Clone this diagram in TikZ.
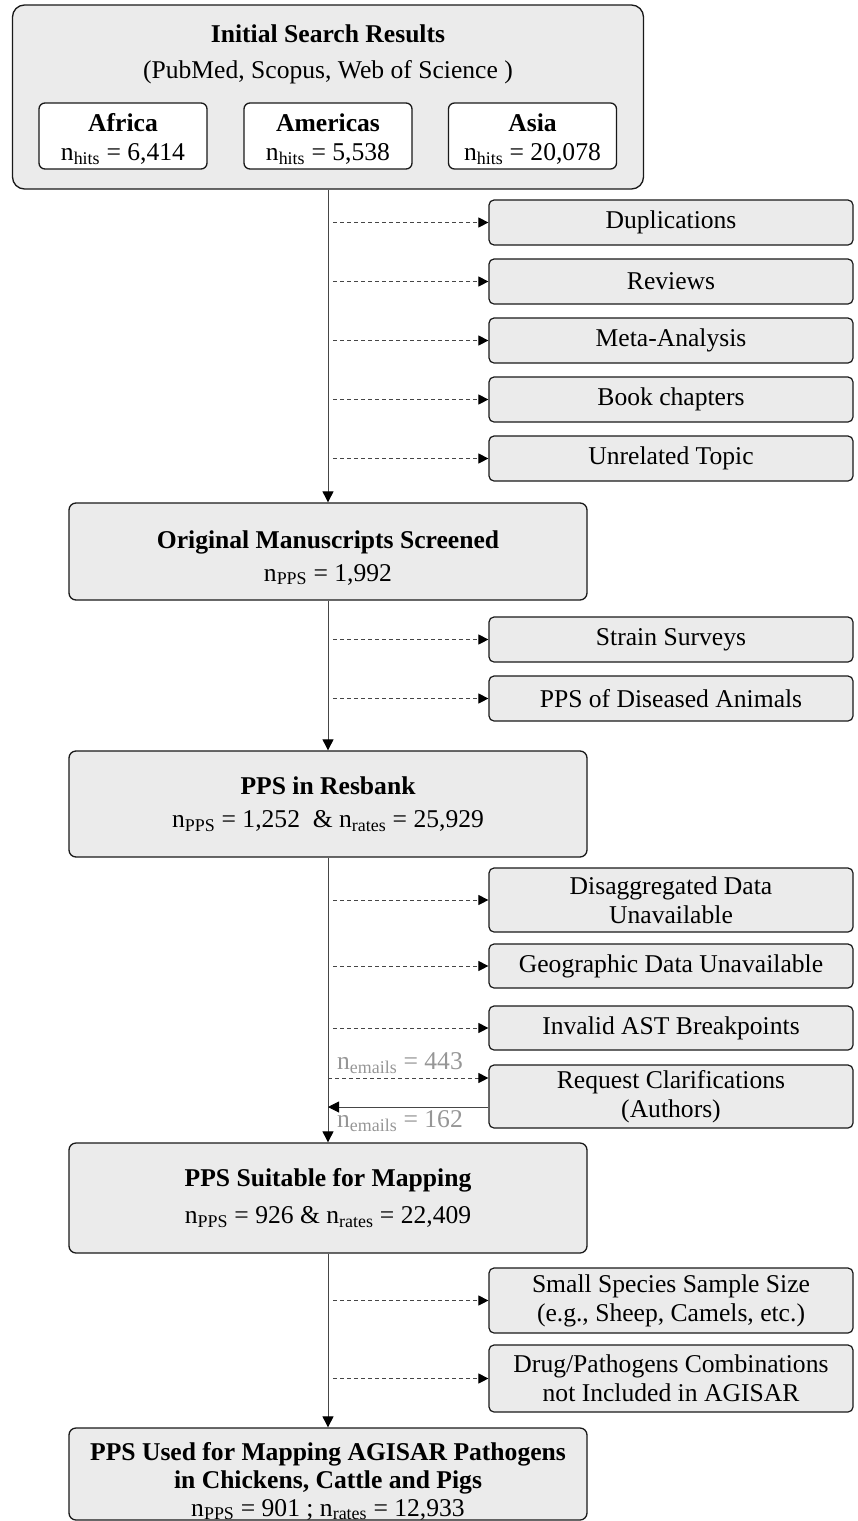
\documentclass[tikz,border=0pt]{standalone}
\usepackage{fontspec}
\setmainfont{Liberation Serif}
\usepackage{xcolor}
\usepackage{tikz}
\usetikzlibrary{arrows.meta}

\definecolor{boxgray}{RGB}{235,235,235}
\definecolor{linegray}{RGB}{70,70,70}
\definecolor{labelgray}{RGB}{150,150,150}

\begin{document}
\begin{tikzpicture}[x=1pt, y=-1pt,
	font=\fontsize{25.6}{29}\selectfont,
	mainbox/.style={draw=black!90, line width=1.3pt, rounded corners=7pt, fill=boxgray, align=center, minimum width=518pt, inner sep=0pt},
	regionbox/.style={draw=black!90, line width=1.3pt, rounded corners=6pt, fill=white, align=center, minimum width=168pt, minimum height=66pt, inner sep=0pt},
	sidebox/.style={draw=black!90, line width=1.2pt, rounded corners=5pt, fill=boxgray, align=center, minimum width=364pt, inner sep=0pt},
	spine/.style={draw=linegray, line width=0.9pt, -{Triangle[length=11pt, width=11pt, color=black]}},
	excl/.style={draw=linegray, line width=0.9pt, dash pattern=on 4pt off 3pt, -{Triangle[length=10pt, width=10pt, color=black]}},
	emaillabel/.style={text=labelgray, inner sep=0pt}]
			\useasboundingbox (0,0) rectangle (858,1521);

			\node[mainbox, rounded corners=12pt, minimum width=631pt, minimum height=184pt] (init) at (328,97) {};
			\node[anchor=base, font=\fontsize{25.6}{29}\selectfont\bfseries] (inittitle) at (328,42) {Initial Search Results};
			\node[anchor=base] (initsub) at (328,78) {(PubMed, Scopus, Web of Science )};
			\node[regionbox] (africa) at (123,136) {\rule{0pt}{24pt}\textbf{Africa}\\n\textsubscript{hits} = 6,414};
			\node[regionbox] (americas) at (328,136) {\rule{0pt}{24pt}\textbf{Americas}\\n\textsubscript{hits} = 5,538};
			\node[regionbox] (asia) at (532.5,136) {\rule{0pt}{24pt}\textbf{Asia}\\n\textsubscript{hits} = 20,078};

			\node[sidebox, minimum height=45pt] (dup) at (671,222.5) {Duplications};
			\node[sidebox, minimum height=45pt] (rev) at (671,281.5) {Reviews};
			\node[sidebox, minimum height=45pt] (meta) at (671,340.5) {Meta-Analysis};
			\node[sidebox, minimum height=45pt] (book) at (671,399.5) {Book chapters};
			\node[sidebox, minimum height=45pt] (unrel) at (671,458.5) {Unrelated Topic};

			\node[mainbox, minimum height=97pt] (orig) at (328,551.5) {\rule{0pt}{30pt}\textbf{Original Manuscripts Screened}\\[4pt]n\textsubscript{PPS} = 1,992};

			\node[sidebox, minimum height=45pt] (strain) at (671,639.5) {Strain Surveys};
			\node[sidebox, minimum height=45pt] (diseased) at (671,698.5) {PPS of Diseased Animals};

			\node[mainbox, minimum height=106pt] (resbank) at (328,804) {\textbf{PPS in Resbank}\\[4pt]n\textsubscript{PPS} = 1,252~~\& n\textsubscript{rates} = 25,929};

			\node[sidebox, minimum height=64pt] (disagg) at (671,900) {Disaggregated Data\\Unavailable};
			\node[sidebox, minimum height=44pt] (geo) at (671,966) {Geographic Data Unavailable};
			\node[sidebox, minimum height=44pt] (invalid) at (671,1028) {Invalid AST Breakpoints};
			\node[sidebox, minimum height=63pt] (request) at (671,1096.5) {Request Clarifications\\(Authors)};
			\coordinate (reqin) at ([yshift=18.5pt]request.west);
			\coordinate (reqout) at ([yshift=-10.5pt]request.west);

			\node[mainbox, minimum height=110pt] (suitable) at (328,1198) {\textbf{PPS Suitable for Mapping}\\[8pt]n\textsubscript{PPS} = 926 \& n\textsubscript{rates} = 22,409};

			\node[sidebox, minimum height=65pt] (small) at (671,1300.5) {Small Species Sample Size\\(e.g., Sheep, Camels, etc.)};
			\node[sidebox, minimum height=67pt] (drug) at (671,1378.5) {Drug/Pathogens Combinations\\not Included in AGISAR};

			\node[mainbox, minimum height=92pt] (final) at (328,1474) {\rule{0pt}{32pt}\textbf{PPS Used for Mapping AGISAR Pathogens}\\[-1pt]\textbf{in Chickens, Cattle and Pigs}\\[-1pt]n\textsubscript{PPS} = 901 ; n\textsubscript{rates} = 12,933};

			\draw[spine] (init.south) -- (orig.north);
			\draw[spine] (orig.south) -- (resbank.north);
			\draw[spine] (resbank.south) -- (suitable.north);
			\draw[spine] (suitable.south) -- (final.north);

			\draw[excl] ([xshift=5pt]init.south |- dup.west) -- (dup.west);
			\draw[excl] ([xshift=5pt]init.south |- rev.west) -- (rev.west);
			\draw[excl] ([xshift=5pt]init.south |- meta.west) -- (meta.west);
			\draw[excl] ([xshift=5pt]init.south |- book.west) -- (book.west);
			\draw[excl] ([xshift=5pt]init.south |- unrel.west) -- (unrel.west);

			\draw[excl] ([xshift=5pt]orig.south |- strain.west) -- (strain.west);
			\draw[excl] ([xshift=5pt]orig.south |- diseased.west) -- (diseased.west);

			\draw[excl] ([xshift=5pt]resbank.south |- disagg.west) -- (disagg.west);
			\draw[excl] ([xshift=5pt]resbank.south |- geo.west) -- (geo.west);
			\draw[excl] ([xshift=5pt]resbank.south |- invalid.west) -- (invalid.west);
			\draw[excl] (resbank.south |- reqin) -- (reqin);
			\draw[spine] (reqout) -- (reqout -| resbank.south);
			\node[emaillabel] (sent) at (400,1063) {n\textsubscript{emails} = 443};
			\node[emaillabel] (answered) at (400,1121) {n\textsubscript{emails} = 162};

			\draw[excl] ([xshift=5pt]suitable.south |- small.west) -- (small.west);
			\draw[excl] ([xshift=5pt]suitable.south |- drug.west) -- (drug.west);
\end{tikzpicture}
\end{document}
